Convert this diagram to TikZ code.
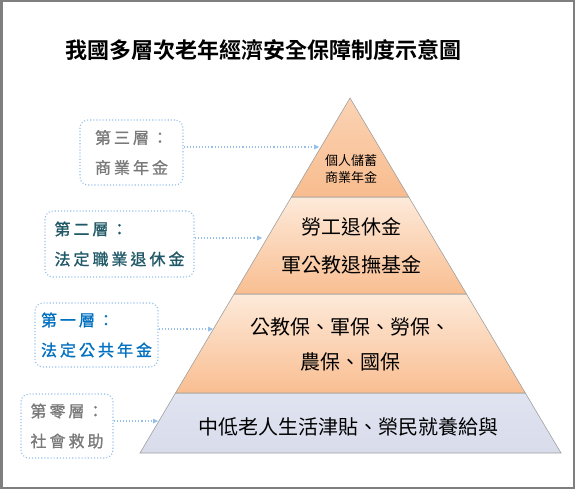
\documentclass[tikz,border=0pt]{standalone}
\usepackage{fontspec}
\setmainfont{Noto Sans CJK TC}
\newfontfamily\cjkb{Noto Sans CJK TC Bold}
\newfontfamily\cjkl[FakeBold=1.2]{Noto Sans CJK TC}
\usetikzlibrary{arrows.meta}
\definecolor{framegray}{HTML}{7F7F7F}
\definecolor{lblgray}{HTML}{7A7A7A}
\definecolor{lblteal}{HTML}{215968}
\definecolor{lblblue}{HTML}{0070C0}
\definecolor{dotblue}{HTML}{95BFEA}
\definecolor{edgegray}{HTML}{A0A0A0}
\definecolor{orTopA}{HTML}{FBD3B4}
\definecolor{orBotA}{HTML}{F8BC8E}
\definecolor{orTopB}{HTML}{FDEADA}
\definecolor{orBotB}{HTML}{F9BE91}
\definecolor{lavTop}{HTML}{E0E4F1}
\definecolor{lavBot}{HTML}{D8DCEB}
\def\spaced#1{\spacedaux#1\relax}
\def\spacedaux#1{\ifx#1\relax\else#1\hspace{3pt}\expandafter\spacedaux\fi}
\begin{document}
\begin{tikzpicture}[x=1pt,y=-1pt,
  labelbox/.style={draw=dotblue, dotted, line width=1.1pt, rounded corners=8pt,
    align=left, inner sep=3pt, font=\cjkl\fontsize{16}{30}\selectfont},
  linkarrow/.style={draw=dotblue, dotted, line width=1.1pt,
    -{Triangle[length=5pt,width=5pt,fill=dotblue,line width=0pt]}},
  bandedge/.style={draw=edgegray, line width=0.6pt},
  bandtext/.style={align=center, inner sep=0pt, text=black},
]
\useasboundingbox (0,0) rectangle (575,489);
\draw[framegray, line width=2.5pt] (1.25,1.25) rectangle (573.75,487.75);

% title
\node[inner sep=0pt] (title) at (263,50) {\cjkb\fontsize{22}{26}\selectfont 我國多層次老年經濟安全保障制度示意圖};

% pyramid bands
\shade[top color=lavTop, bottom color=lavBot] (175.5,393) -- (525.3,393) -- (561,453) -- (140,453) -- cycle;
\draw[bandedge] (175.5,393) -- (525.3,393) -- (561,453) -- (140,453) -- cycle;
\shade[top color=orTopB, bottom color=orBotB] (234.1,294) -- (466.5,294) -- (525.3,393) -- (175.5,393) -- cycle;
\draw[bandedge] (234.1,294) -- (466.5,294) -- (525.3,393) -- (175.5,393) -- cycle;
\shade[top color=orTopB, bottom color=orBotB] (291.4,197) -- (408.8,197) -- (466.5,294) -- (234.1,294) -- cycle;
\draw[bandedge] (291.4,197) -- (408.8,197) -- (466.5,294) -- (234.1,294) -- cycle;
\shade[top color=orTopA, bottom color=orBotA] (350,98) -- (408.8,197) -- (291.4,197) -- cycle;
\draw[bandedge] (350,98) -- (408.8,197) -- (291.4,197) -- cycle;

% pyramid texts
\node[bandtext, font=\fontsize{13}{17}\selectfont] (t3) at (351,169.5) {個人儲蓄\\商業年金};
\node[bandtext, font=\fontsize{20}{38}\selectfont] (t2) at (351,246) {勞工退休金\\軍公教退撫基金};
\node[bandtext, font=\fontsize{20}{35}\selectfont] (t1) at (350,344.5) {公教保、軍保、勞保、\\農保、國保};
\node[bandtext, font=\fontsize{20}{24}\selectfont] (t0) at (348,427) {中低老人生活津貼、榮民就養給與};

% label boxes
\node[labelbox, text=lblgray, minimum width=103pt, minimum height=65pt] (b3) at (131.5,152.5) {\spaced{第三層：}\\\spaced{商業年金}};
\node[labelbox, text=lblteal, minimum width=149pt, minimum height=66pt] (b2) at (119.5,244) {\spaced{第二層：}\\\spaced{法定職業退休金}};
\node[labelbox, text=lblblue, minimum width=123pt, minimum height=64pt] (b1) at (96.5,335) {\spaced{第一層：}\\\spaced{法定公共年金}};
\node[labelbox, text=lblgray, minimum width=92pt, minimum height=64pt] (b0) at (67,426) {\spaced{第零層：}\\\spaced{社會救助}};

% arrow end points on the pyramid edge
\coordinate (e3) at (319,147);
\coordinate (e2) at (262,238);
\coordinate (e1) at (213,329);
\coordinate (e0) at (158,421);

\draw[linkarrow] (b3.east |- e3) -- (e3);
\draw[linkarrow] (b2.east |- e2) -- (e2);
\draw[linkarrow] (b1.east |- e1) -- (e1);
\draw[linkarrow] (b0.east |- e0) -- (e0);
\end{tikzpicture}
\end{document}
